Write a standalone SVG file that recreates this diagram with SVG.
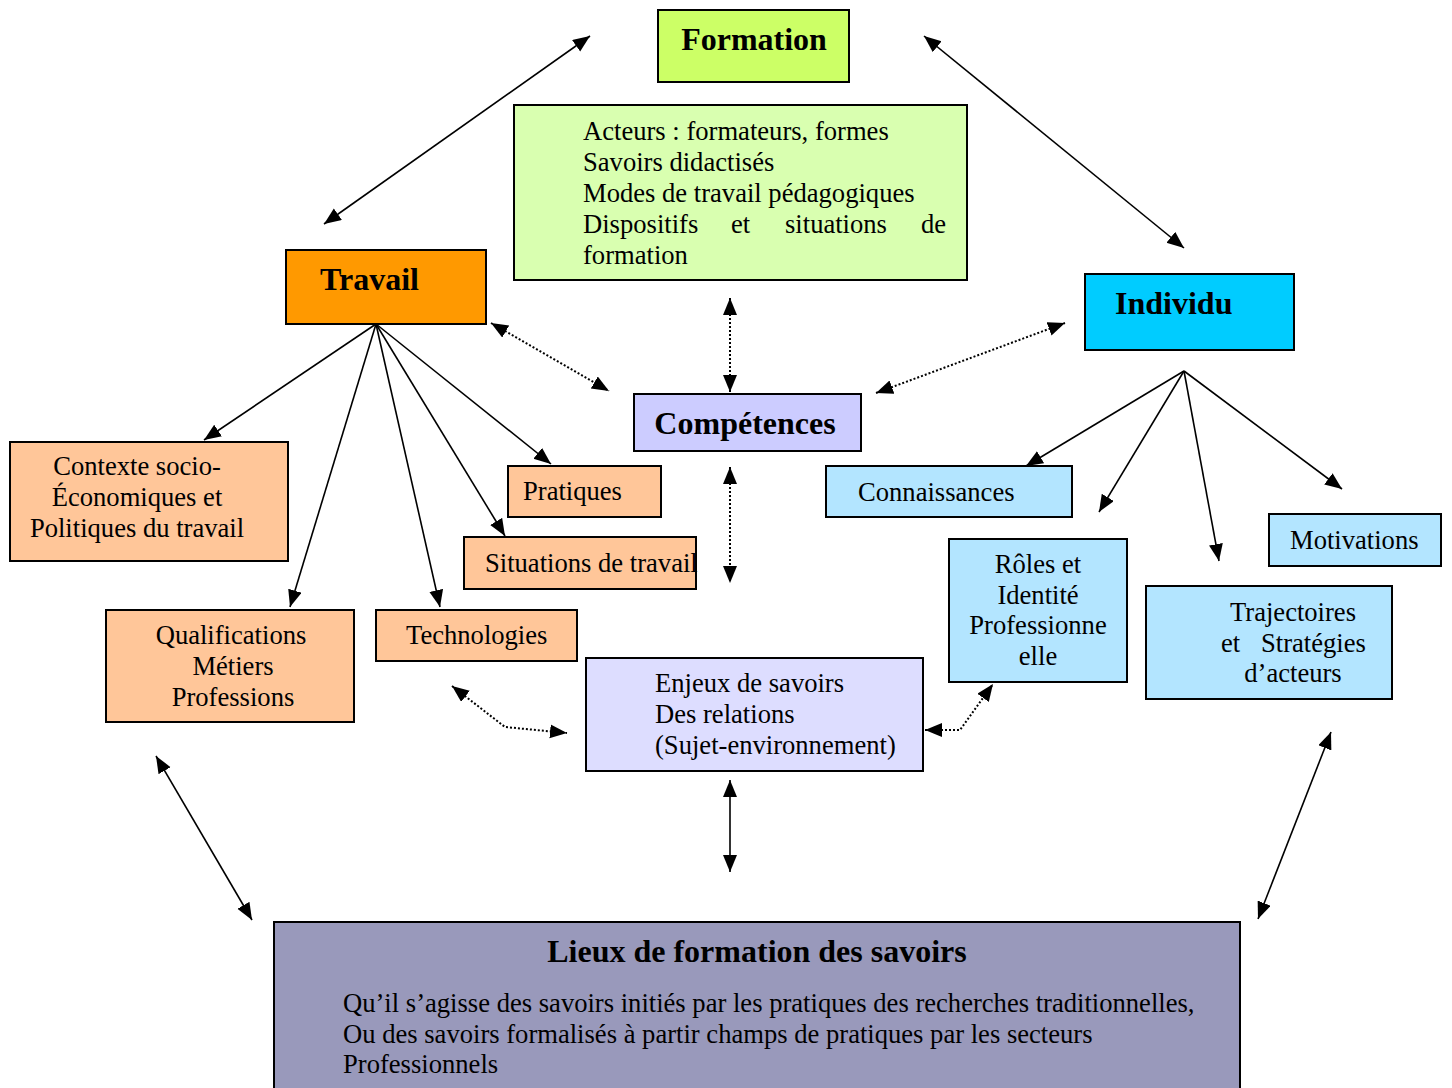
<svg xmlns="http://www.w3.org/2000/svg" width="1452" height="1088" viewBox="0 0 1452 1088">
<style>
.box{stroke:#000;stroke-width:2}
.t{font-family:"Liberation Serif","Times New Roman",serif;font-size:26.6px;fill:#000}
.b{font-family:"Liberation Serif","Times New Roman",serif;font-size:32px;font-weight:bold;fill:#000}
.c{text-anchor:middle}
.sol{stroke:#000;stroke-width:1.6;fill:none}
.dot{stroke:#000;stroke-width:2;stroke-dasharray:2,2;fill:none}
.peach{fill:#FFC699}
.lblue{fill:#B3E5FF}
</style>
<defs>
<marker id="ah" markerUnits="userSpaceOnUse" markerWidth="20" markerHeight="16" refX="17" refY="7" orient="auto-start-reverse" viewBox="0 0 20 16">
<path d="M0,0 L17,7 L0,14 z" fill="#000"/>
</marker>
</defs>
<rect width="1452" height="1088" fill="#fff"/>

<g id="connectors">
<line class="sol" x1="590" y1="36" x2="324" y2="224" marker-start="url(#ah)" marker-end="url(#ah)"/>
<line class="sol" x1="924" y1="36" x2="1184" y2="248" marker-start="url(#ah)" marker-end="url(#ah)"/>
<line class="sol" x1="156" y1="756" x2="252" y2="920" marker-start="url(#ah)" marker-end="url(#ah)"/>
<line class="sol" x1="1331" y1="732" x2="1258" y2="919" marker-start="url(#ah)" marker-end="url(#ah)"/>
<line class="sol" x1="730" y1="780" x2="730" y2="872" marker-start="url(#ah)" marker-end="url(#ah)"/>
<line class="sol" x1="376" y1="324" x2="204" y2="440" marker-end="url(#ah)"/>
<line class="sol" x1="376" y1="324" x2="290" y2="607" marker-end="url(#ah)"/>
<line class="sol" x1="376" y1="324" x2="440" y2="607" marker-end="url(#ah)"/>
<line class="sol" x1="376" y1="324" x2="505" y2="536" marker-end="url(#ah)"/>
<line class="sol" x1="376" y1="324" x2="551" y2="464" marker-end="url(#ah)"/>
<line class="sol" x1="1184" y1="371" x2="1026" y2="466" marker-end="url(#ah)"/>
<line class="sol" x1="1184" y1="371" x2="1099" y2="512" marker-end="url(#ah)"/>
<line class="sol" x1="1184" y1="371" x2="1219" y2="561" marker-end="url(#ah)"/>
<line class="sol" x1="1184" y1="371" x2="1342" y2="489" marker-end="url(#ah)"/>
<line class="dot" x1="491" y1="323" x2="609" y2="391" marker-start="url(#ah)" marker-end="url(#ah)"/>
<line class="dot" x1="730" y1="298" x2="730" y2="392" marker-start="url(#ah)" marker-end="url(#ah)"/>
<line class="dot" x1="876" y1="393" x2="1065" y2="323" marker-start="url(#ah)" marker-end="url(#ah)"/>
<line class="dot" x1="730" y1="467" x2="730" y2="583" marker-start="url(#ah)" marker-end="url(#ah)"/>
<polyline class="dot" points="452,686 505,727 567,733" marker-start="url(#ah)" marker-end="url(#ah)"/>
<polyline class="dot" points="925,730 960,730 993,684" marker-start="url(#ah)" marker-end="url(#ah)"/>
</g>

<g id="formation">
<rect class="box" x="658" y="10" width="191" height="72" fill="#CCFF66"/>
<text class="b c" x="754" y="50">Formation</text>
</g>

<g id="formation-contenu">
<rect class="box" x="514" y="105" width="453" height="175" fill="#D9FFB0"/>
<text class="t" x="583" y="140">Acteurs : formateurs, formes</text>
<text class="t" x="583" y="171">Savoirs didactisés</text>
<text class="t" x="583" y="202">Modes de travail pédagogiques</text>
<text class="t" x="583" y="233">Dispositifs</text>
<text class="t" x="731" y="233">et</text>
<text class="t" x="785" y="233">situations</text>
<text class="t" x="921" y="233">de</text>
<text class="t" x="583" y="264">formation</text>
</g>

<g id="travail">
<rect class="box" x="286" y="250" width="200" height="74" fill="#FF9900"/>
<text class="b" x="320" y="290">Travail</text>
</g>

<g id="individu">
<rect class="box" x="1085" y="274" width="209" height="76" fill="#00CCFF"/>
<text class="b" x="1115" y="314">Individu</text>
</g>

<g id="competences">
<rect class="box" x="634" y="394" width="227" height="57" fill="#CCCCFF"/>
<text class="b c" x="745" y="434">Compétences</text>
</g>

<g id="contexte">
<rect class="box peach" x="10" y="442" width="278" height="119"/>
<text class="t c" x="137" y="475">Contexte socio-</text>
<text class="t c" x="137" y="506">Économiques et</text>
<text class="t c" x="137" y="537">Politiques du travail</text>
</g>

<g id="pratiques">
<rect class="box peach" x="508" y="466" width="153" height="51"/>
<text class="t" x="523" y="500">Pratiques</text>
</g>

<g id="situations">
<rect class="box peach" x="464" y="537" width="232" height="52"/>
<text class="t" x="485" y="572">Situations de travail</text>
</g>

<g id="qualifications">
<rect class="box peach" x="106" y="610" width="248" height="112"/>
<text class="t c" x="231" y="644">Qualifications</text>
<text class="t c" x="233" y="675">Métiers</text>
<text class="t c" x="233" y="706">Professions</text>
</g>

<g id="technologies">
<rect class="box peach" x="376" y="610" width="201" height="51"/>
<text class="t" x="406" y="644">Technologies</text>
</g>

<g id="enjeux">
<rect class="box" x="586" y="658" width="337" height="113" fill="#DDDDFF"/>
<text class="t" x="655" y="692">Enjeux de savoirs</text>
<text class="t" x="655" y="723">Des relations</text>
<text class="t" x="655" y="754">(Sujet-environnement)</text>
</g>

<g id="connaissances">
<rect class="box lblue" x="826" y="466" width="246" height="51"/>
<text class="t" x="858" y="501">Connaissances</text>
</g>

<g id="roles">
<rect class="box lblue" x="949" y="539" width="178" height="143"/>
<text class="t c" x="1038" y="573">Rôles et</text>
<text class="t c" x="1038" y="604">Identité</text>
<text class="t c" x="1038" y="634">Professionne</text>
<text class="t c" x="1038" y="665">elle</text>
</g>

<g id="motivations">
<rect class="box lblue" x="1269" y="514" width="172" height="52"/>
<text class="t" x="1290" y="549">Motivations</text>
</g>

<g id="trajectoires">
<rect class="box lblue" x="1146" y="586" width="246" height="113"/>
<text class="t c" x="1293" y="621">Trajectoires</text>
<text class="t" x="1221" y="652">et</text>
<text class="t" x="1261" y="652">Stratégies</text>
<text class="t c" x="1293" y="682">d’acteurs</text>
</g>

<g id="lieux">
<rect class="box" x="274" y="922" width="966" height="180" fill="#9999BB"/>
<text class="b c" x="757" y="962">Lieux de formation des savoirs</text>
<text class="t" x="343" y="1012">Qu’il s’agisse des savoirs initiés par les pratiques des recherches traditionnelles,</text>
<text class="t" x="343" y="1043">Ou des savoirs formalisés à partir champs de pratiques par les secteurs</text>
<text class="t" x="343" y="1073">Professionnels</text>
</g>
</svg>
